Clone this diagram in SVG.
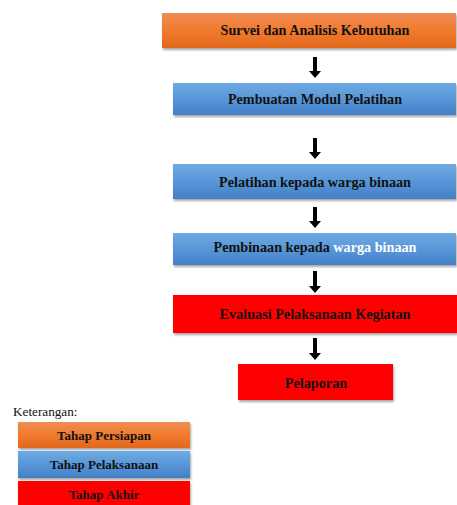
<svg xmlns="http://www.w3.org/2000/svg" width="457" height="505" viewBox="0 0 457 505">
<defs>
<linearGradient id="gOr" x1="0" y1="0" x2="0" y2="1"><stop offset="0" stop-color="#f28c55"/><stop offset="0.5" stop-color="#f07a2e"/><stop offset="1" stop-color="#e2681c"/></linearGradient>
<linearGradient id="gBl" x1="0" y1="0" x2="0" y2="1"><stop offset="0" stop-color="#6eaae2"/><stop offset="0.5" stop-color="#5896d8"/><stop offset="1" stop-color="#4380c8"/></linearGradient>
<filter id="sh" x="-5%" y="-20%" width="110%" height="150%"><feDropShadow dx="1" dy="2" stdDeviation="1" flood-color="#000" flood-opacity="0.35"/></filter>
</defs>
<style>
.t{font-family:"Liberation Serif","Times New Roman",serif;font-weight:bold;font-size:14.2px;fill:#111;text-anchor:middle}
.lt{font-family:"Liberation Serif","Times New Roman",serif;font-weight:bold;font-size:13px;fill:#111;text-anchor:middle}
.or{fill:url(#gOr)}
.bl{fill:url(#gBl)}
.rd{fill:#ff0000}
.b{filter:url(#sh)}
.ar{fill:#000}
</style>
<rect width="457" height="505" fill="#fff"/>
<g id="n1"><rect class="or b" x="162" y="13" width="294" height="35"/><text class="t" x="315" y="35">Survei dan Analisis Kebutuhan</text></g>
<g id="n2"><rect class="bl b" x="173" y="83" width="283" height="32"/><text class="t" x="315" y="104">Pembuatan Modul Pelatihan</text></g>
<g id="n3"><rect class="bl b" x="173" y="164" width="283" height="35"/><text class="t" x="315" y="187">Pelatihan kepada warga binaan</text></g>
<g id="n4"><rect class="bl b" x="173" y="233" width="283" height="32"/><text class="t" x="315" y="252">Pembinaan kepada <tspan fill="#fff">warga binaan</tspan></text></g>
<g id="n5"><rect class="rd b" x="173" y="295" width="284" height="38"/><text class="t" x="315" y="319">Evaluasi Pelaksanaan Kegiatan</text></g>
<g id="n6"><rect class="rd b" x="238" y="364" width="155" height="36"/><text class="t" x="316" y="388">Pelaporan</text></g>
<g id="connectors">
<path class="ar" d="M313,57 H317 V71 H321 L315,78 L309,71 H313 Z"/>
<path class="ar" d="M313,138 H317 V152 H321 L315,159 L309,152 H313 Z"/>
<path class="ar" d="M313,207 H317 V221 H321 L315,228 L309,221 H313 Z"/>
<path class="ar" d="M313,271 H317 V286 H321 L315,293 L309,286 H313 Z"/>
<path class="ar" d="M313,338 H317 V353 H321 L315,360 L309,353 H313 Z"/>
</g>
<g id="legend">
<text x="13" y="416" font-family="'Liberation Serif','Times New Roman',serif" font-size="13.2" fill="#111">Keterangan:</text>
<g id="l1"><rect class="or b" x="18" y="422" width="172" height="26"/><text class="lt" x="104" y="440">Tahap Persiapan</text></g>
<g id="l2"><rect class="bl b" x="18" y="451" width="172" height="27"/><text class="lt" x="104" y="469">Tahap Pelaksanaan</text></g>
<g id="l3"><rect class="rd b" x="18" y="481" width="172" height="26"/><text class="lt" x="104" y="499">Tahap Akhir</text></g>
</g>
</svg>
